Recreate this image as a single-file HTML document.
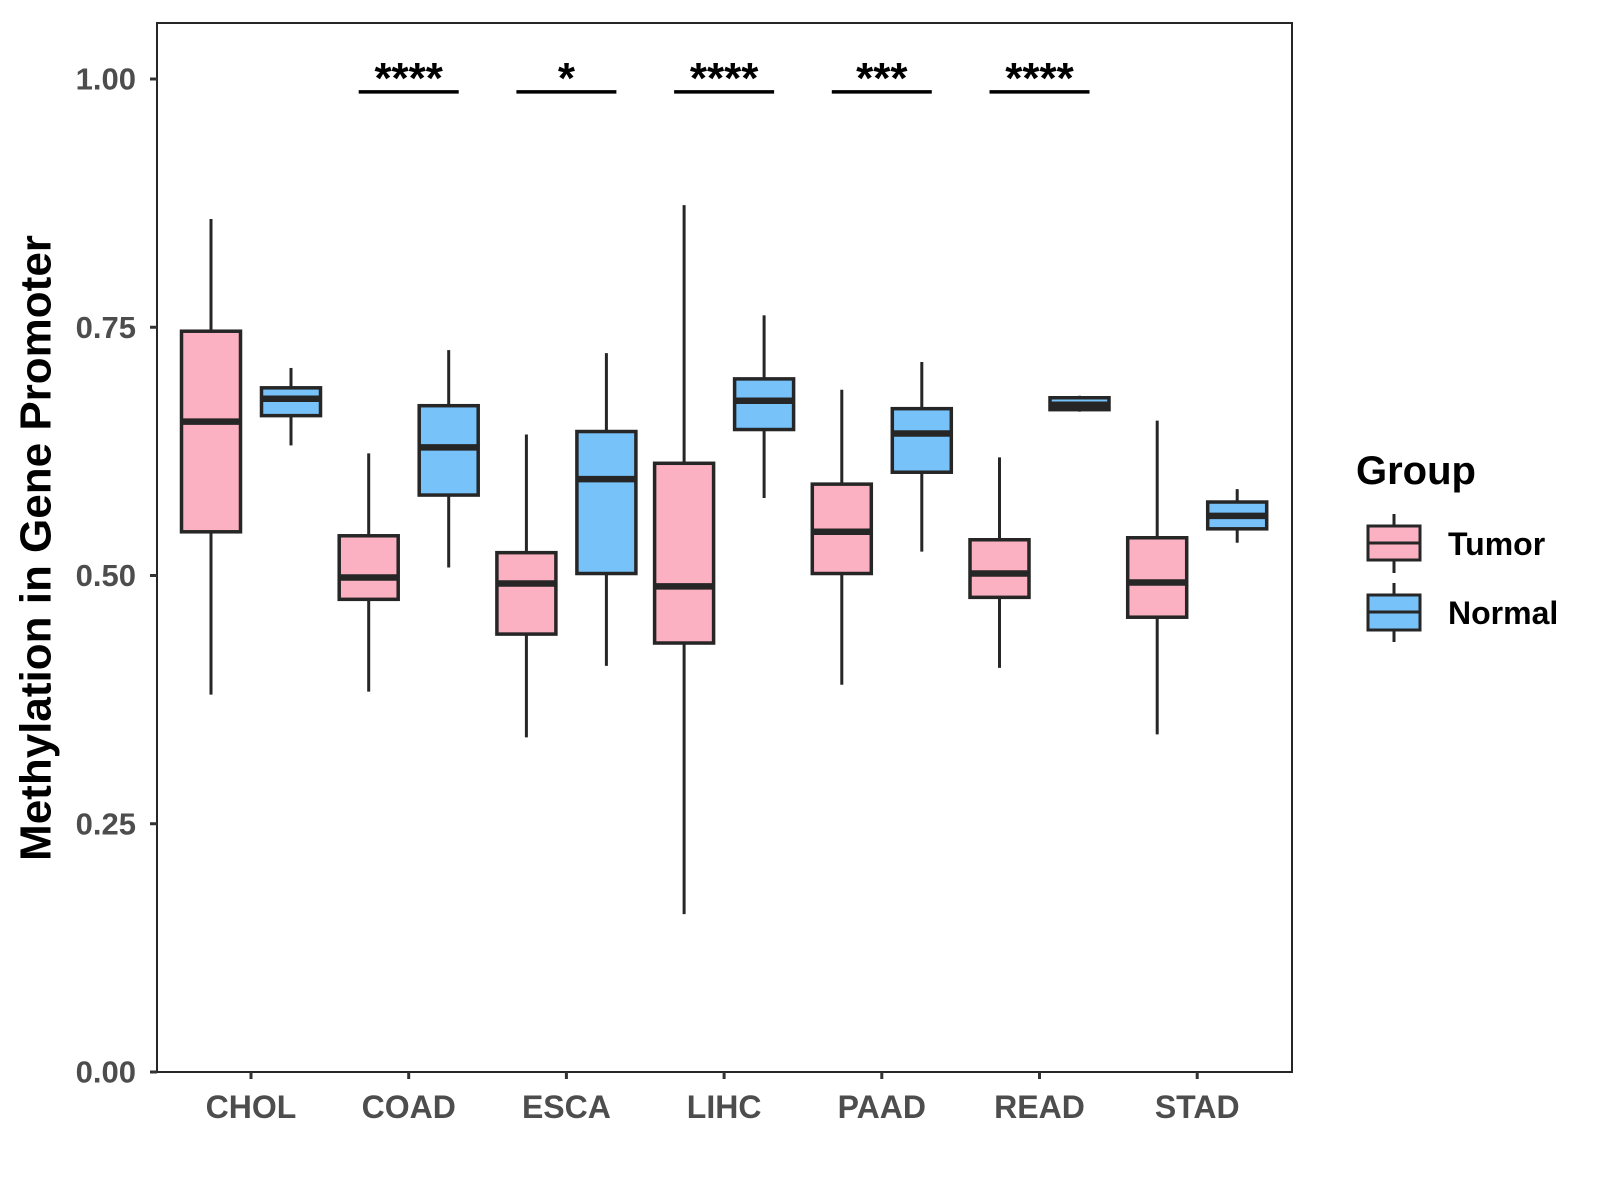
<!DOCTYPE html>
<html><head><meta charset="utf-8"><style>
html,body{margin:0;padding:0;background:#fff;}
svg{display:block;font-family:"Liberation Sans",Arial,sans-serif;}
</style></head><body>
<svg id="chart" width="1600" height="1200" viewBox="0 0 1600 1200" xmlns="http://www.w3.org/2000/svg">
<rect x="157" y="23" width="1135" height="1049" fill="#fff" stroke="#262626" stroke-width="2"/>
<g id="yaxis"></g>
<g id="xaxis"></g>
<g id="boxes"></g>
<g id="sig"></g>
<text x="39" y="548" transform="rotate(-90 39 548)" text-anchor="middle" dominant-baseline="middle" font-size="44" font-weight="bold" fill="#000">Methylation in Gene Promoter</text>
<g>
<text x="1356" y="484" font-size="40" font-weight="bold" fill="#000">Group</text>
<g>
<line x1="1394" y1="514" x2="1394" y2="573" stroke="#262626" stroke-width="3"/>
<rect x="1368" y="526" width="52" height="34" fill="#FBB1C1" stroke="#262626" stroke-width="3"/>
<line x1="1368" y1="543" x2="1420" y2="543" stroke="#262626" stroke-width="3"/>
<text x="1448" y="555" font-size="32" font-weight="bold" fill="#000">Tumor</text>
</g>
<g>
<line x1="1394" y1="583" x2="1394" y2="642" stroke="#262626" stroke-width="3"/>
<rect x="1368" y="595" width="52" height="35" fill="#77C2F8" stroke="#262626" stroke-width="3"/>
<line x1="1368" y1="612" x2="1420" y2="612" stroke="#262626" stroke-width="3"/>
<text x="1448" y="624" font-size="32" font-weight="bold" fill="#000">Normal</text>
</g>
</g>
</svg>
<script>
const categories=["CHOL","COAD","ESCA","LIHC","PAAD","READ","STAD"];
// [lowWhisker, Q1, median, Q3, highWhisker]
const tumorStats=[[0.380,0.544,0.655,0.746,0.859],[0.383,0.476,0.498,0.540,0.623],[0.337,0.441,0.492,0.523,0.642],[0.159,0.432,0.489,0.613,0.873],[0.390,0.502,0.544,0.592,0.687],[0.407,0.478,0.502,0.536,0.619],[0.340,0.458,0.493,0.538,0.656]];
const normalStats=[[0.631,0.661,0.678,0.689,0.709],[0.508,0.581,0.629,0.671,0.727],[0.409,0.502,0.597,0.645,0.724],[0.578,0.647,0.676,0.698,0.762],[0.524,0.604,0.643,0.668,0.715],[0.665,0.667,0.672,0.679,0.681],[0.533,0.547,0.560,0.574,0.587]];
const sigLabels=["","****","*","****","***","****",""];
const sigLevel=0.987;
const yTicks=[0,0.25,0.5,0.75,1.0];
const yTickLabels=["0.00","0.25","0.50","0.75","1.00"];

const NS="http://www.w3.org/2000/svg";
const y=v=>1072-v*993;
const xc=i=>251+157.7*i;
function mk(tag,attrs,parent){const e=document.createElementNS(NS,tag);for(const k in attrs)e.setAttribute(k,attrs[k]);parent.appendChild(e);return e;}
const yaxis=document.getElementById('yaxis'),xaxis=document.getElementById('xaxis'),boxes=document.getElementById('boxes'),sig=document.getElementById('sig');
yTicks.forEach((t,i)=>{
  const l=mk('line',{x1:150,x2:157,y1:y(t),y2:y(t),stroke:'#333','stroke-width':3},yaxis);
  
  
  const tx=mk('text',{x:136,y:y(t),'text-anchor':'end','dominant-baseline':'central','font-size':31,'font-weight':'bold',fill:'#4d4d4d'},yaxis);
  tx.textContent=yTickLabels[i];
  
  
});
categories.forEach((c,i)=>{
  const l=mk('line',{x1:xc(i),x2:xc(i),y1:1072,y2:1079,stroke:'#333','stroke-width':3},xaxis);
  
  
  const tx=mk('text',{x:xc(i),y:1107,'text-anchor':'middle','dominant-baseline':'central','font-size':32,'font-weight':'bold',fill:'#4d4d4d'},xaxis);
  tx.textContent=c;
  
  
});
function drawBox(s,cx,fill,name){
  const g=mk('g',{},boxes);
  
  
  const w=59;
  mk('line',{x1:cx,x2:cx,y1:y(s[4]),y2:y(s[3]),stroke:'#262626','stroke-width':3},g);
  mk('line',{x1:cx,x2:cx,y1:y(s[1]),y2:y(s[0]),stroke:'#262626','stroke-width':3},g);
  mk('rect',{x:cx-w/2,y:y(s[3]),width:w,height:Math.max(1,y(s[1])-y(s[3])),fill:fill,stroke:'#262626','stroke-width':3.5},g);
  mk('line',{x1:cx-w/2,x2:cx+w/2,y1:y(s[2]),y2:y(s[2]),stroke:'#262626','stroke-width':6.5},g);
}
categories.forEach((c,i)=>{
  drawBox(tumorStats[i],xc(i)-40,'#FBB1C1','box-tumor-'+c.toLowerCase());
  drawBox(normalStats[i],xc(i)+40,'#77C2F8','box-normal-'+c.toLowerCase());
  if(sigLabels[i]){
    const l=mk('line',{x1:xc(i)-50,x2:xc(i)+50,y1:y(sigLevel),y2:y(sigLevel),stroke:'#000','stroke-width':3.5},sig);
    
    
    const t=mk('text',{x:xc(i),y:y(sigLevel)+1,'text-anchor':'middle','font-size':44,'font-weight':'bold',fill:'#000'},sig);
    t.textContent=sigLabels[i];
    
    
  }
});
</script>
</body></html>
